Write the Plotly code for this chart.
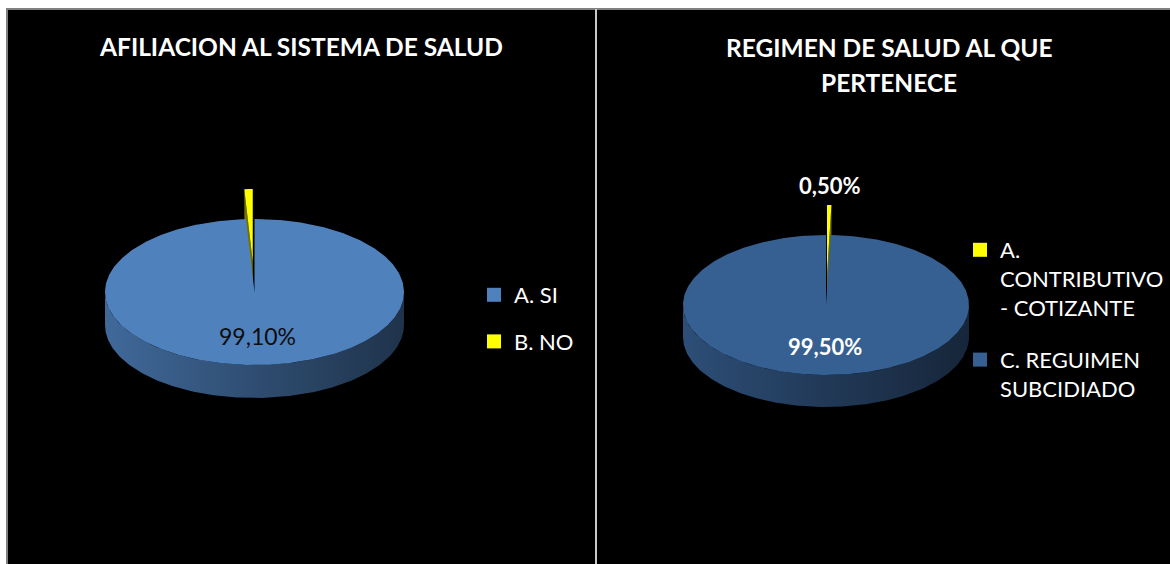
import numpy as np
import plotly.graph_objects as go

W, H = 1170, 564
FONT = "Lato"

# ---------------- data ----------------
chart1_title = "AFILIACION AL SISTEMA DE SALUD"
chart1_labels = ["A. SI", "B. NO"]
chart1_values = [99.1, 0.9]
chart1_colors = ["#4F81BD", "#FFFF00"]
chart1_explode = [0.0, 0.41]
chart1_show_label = [True, False]

chart2_title_lines = ["REGIMEN DE SALUD AL QUE", "PERTENECE"]
chart2_labels = ["A.<br>CONTRIBUTIVO<br>- COTIZANTE", "C. REGUIMEN<br>SUBCIDIADO"]
chart2_values = [0.5, 99.5]
chart2_colors = ["#FFFF00", "#376092"]
chart2_explode = [0.43, 0.0]
chart2_show_label = [True, True]


def shade(hexc, f):
    hexc = hexc.lstrip("#")
    r, g, b = (int(hexc[i:i + 2], 16) for i in (0, 2, 4))
    return "rgb(%d,%d,%d)" % (r * f, g * f, b * f)


def fmt(v):
    return ("%.2f%%" % v).replace(".", ",")


def px(x):
    return x / W


def py(y):
    return 1 - y / H


fig = go.Figure()
annotations = []


def pie3d(cx, cy, rx, ry, depth, values, colors, explode, show_label,
          label_font, label_color, inside_bold):
    vals = np.array(values, dtype=float)
    fr = vals / vals.sum()
    ends = np.cumsum(fr) * 2 * np.pi
    starts = ends - fr * 2 * np.pi

    def pt(th, ox=0.0, oy=0.0):
        return cx + ox + rx * np.sin(th), cy + oy - ry * np.cos(th)

    order = sorted(range(len(vals)), key=lambda i: -explode[i])
    for i in order:
        a0, a1 = starts[i], ends[i]
        am = (a0 + a1) / 2
        ox = explode[i] * rx * np.sin(am)
        oy = -explode[i] * ry * np.cos(am)
        col = colors[i]
        # outer wall (visible front part)
        w0, w1 = max(a0, np.pi / 2), min(a1, 3 * np.pi / 2)
        if w1 > w0:
            th = np.linspace(w0, w1, 200)
            tx, ty = pt(th, ox, oy)
            xs = np.concatenate([tx, tx[::-1], tx[:1]])
            ys = np.concatenate([ty, ty[::-1] + depth, ty[:1]])
            fig.add_trace(go.Scatter(
                x=xs, y=ys, mode="lines", fill="toself", line=dict(width=0),
                fillgradient=dict(type="horizontal", start=cx - rx, stop=cx + rx,
                                  colorscale=[[0, shade(col, 0.82)], [0.5, shade(col, 0.6)],
                                              [1, shade(col, 0.4)]]),
                hoverinfo="skip", showlegend=False))
        # radial cut faces for exploded slices
        if explode[i] > 0:
            ccx, ccy = cx + ox, cy + oy
            for a in (a0, a1):
                ex, ey = pt(a, ox, oy)
                fig.add_trace(go.Scatter(
                    x=[ccx, ex, ex, ccx, ccx], y=[ccy, ey, ey + depth, ccy + depth, ccy],
                    mode="lines", fill="toself", line=dict(width=0),
                    fillcolor=shade(col, 0.45), hoverinfo="skip", showlegend=False))
        # top face
        th = np.linspace(a0, a1, max(3, int(400 * fr[i])))
        tx, ty = pt(th, ox, oy)
        xs = np.concatenate([[cx + ox], tx, [cx + ox]])
        ys = np.concatenate([[cy + oy], ty, [cy + oy]])
        fig.add_trace(go.Scatter(
            x=xs, y=ys, mode="lines", fill="toself", line=dict(width=0),
            fillcolor=col, hoverinfo="skip", showlegend=False))
        # data label
        if show_label[i]:
            if explode[i] > 0:
                lx, ly = pt(am, ox, oy)
                annotations.append(dict(x=lx, y=ly - 19, xref="x", yref="y", text=fmt(values[i]),
                                        showarrow=False,
                                        font=dict(family=FONT, size=label_font, color="white",
                                                  weight=700)))
            else:
                lx = cx + 0.6 * rx * np.sin(am)
                ly = cy - 0.6 * ry * np.cos(am)
                annotations.append(dict(x=lx, y=ly, xref="x", yref="y", text=fmt(values[i]),
                                        showarrow=False,
                                        font=dict(family=FONT, size=label_font, color=label_color,
                                                  weight=700 if inside_bold else 400)))


pie3d(254.5, 292, 149.5, 73, 33, chart1_values, chart1_colors, chart1_explode,
      chart1_show_label, 23, "#0d0d0d", False)
pie3d(826, 305, 143, 70, 32, chart2_values, chart2_colors, chart2_explode,
      chart2_show_label, 22, "white", True)

# legend-only entries
for lab, col in zip(chart1_labels, chart1_colors):
    fig.add_trace(go.Scatter(x=[None], y=[None], mode="markers", name=lab,
                             marker=dict(symbol="square", size=14, color=col, line=dict(width=0)),
                             legend="legend", legendgroup=lab))
for lab, col in zip(chart2_labels, chart2_colors):
    fig.add_trace(go.Scatter(x=[None], y=[None], mode="markers", name=lab,
                             marker=dict(symbol="square", size=14, color=col, line=dict(width=0)),
                             legend="legend2", legendgroup=lab))

# titles
annotations.append(dict(x=301, y=46, xref="x", yref="y", text=chart1_title, showarrow=False,
                        font=dict(family=FONT, size=24.5, color="white", weight=700)))
for k, line in enumerate(chart2_title_lines):
    annotations.append(dict(x=889, y=47 + 35 * k, xref="x", yref="y", text=line, showarrow=False,
                            font=dict(family=FONT, size=24.5, color="white", weight=700)))

fig.update_layout(
    width=W, height=H, autosize=False,
    margin=dict(l=0, r=0, t=0, b=0),
    paper_bgcolor="white", plot_bgcolor="rgba(0,0,0,0)",
    xaxis=dict(range=[0, W], visible=False, fixedrange=True),
    yaxis=dict(range=[H, 0], visible=False, fixedrange=True),
    shapes=[
        dict(type="rect", xref="x", yref="y", x0=7, y0=9, x1=W + 5, y1=H + 5,
             fillcolor="black", line=dict(color="#808080", width=2), layer="below"),
        dict(type="line", xref="x", yref="y", x0=596, y0=9, x1=596, y1=H,
             line=dict(color="#c8c8c8", width=2), layer="below"),
    ],
    annotations=annotations,
    legend=dict(x=px(474), y=py(274), xanchor="left", yanchor="top",
                font=dict(family=FONT, size=22, color="white"), bgcolor="rgba(0,0,0,0)",
                traceorder="grouped", tracegroupgap=15),
    legend2=dict(x=px(960), y=py(229), xanchor="left", yanchor="top",
                 font=dict(family=FONT, size=22, color="white"), bgcolor="rgba(0,0,0,0)",
                 traceorder="grouped", tracegroupgap=21, valign="top"),
    showlegend=True,
)

fig.write_html("out.html",
               config={"displayModeBar": False},
               post_script="document.body.style.margin='0';"
                           "document.documentElement.style.overflow='hidden';")
